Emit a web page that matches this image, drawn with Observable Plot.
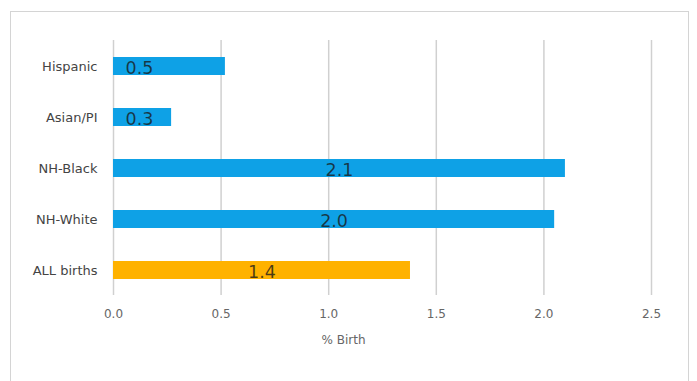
<!DOCTYPE html>
<html>
<head>
<meta charset="utf-8">
<script src="https://cdn.jsdelivr.net/npm/d3@7"></script>
<script src="https://cdn.jsdelivr.net/npm/@observablehq/plot@0.6"></script>
<style>
  html, body { margin: 0; padding: 0; background: #fff; }
  #wrap { position: relative; width: 697px; height: 381px; overflow: hidden; }
  #frame { position: absolute; left: 10px; top: 11px; width: 679px; height: 400px; border: 1.5px solid #d4d4d4; box-sizing: border-box; }
  #chart { position: absolute; left: 0; top: 0; }
</style>
</head>
<body>
<div id="wrap"><div id="frame"></div><div id="chart"></div></div>
<script>
const categories = ["Hispanic", "Asian/PI", "NH-Black", "NH-White", "ALL births"];
const values = [0.52, 0.27, 2.10, 2.05, 1.38];
const labels = ["0.5", "0.3", "2.1", "2.0", "1.4"];
const groups = ["group", "group", "group", "group", "all"];
const xTicks = [0, 0.5, 1.0, 1.5, 2.0, 2.5];

const data = categories.map((c, i) => ({ cat: c, value: values[i], label: labels[i], group: groups[i] }));
const small = data.filter(d => d.value < 1);
const large = data.filter(d => d.value >= 1);

const chart = Plot.plot({
  width: 697,
  height: 381,
  marginTop: 40,
  marginBottom: 86,
  marginLeft: 113,
  marginRight: 46,
  style: { fontFamily: "'DejaVu Sans', sans-serif", background: "transparent" },
  x: { domain: [0, 2.5], ticks: xTicks, tickFormat: d3.format(".1f"), label: null },
  y: { domain: categories, paddingInner: 0.65, paddingOuter: 0.325, label: null },
  color: { domain: ["group", "all"], range: ["#0ea1e6", "#ffb200"] },
  marks: [
    Plot.gridX(xTicks, { stroke: "#d0d0d0", strokeOpacity: 1, strokeWidth: 1.5 }),
    Plot.barX(data, { x: "value", y: "cat", fill: "group" }),
    Plot.text(large, { x: d => d.value / 2, y: "cat", text: "label", fontSize: 17.5, fill: "#1a1a1a", fillOpacity: 0.78, dy: 2 }),
    Plot.text(small, { x: 0, y: "cat", text: "label", textAnchor: "start", dx: 12, fontSize: 17.5, fill: "#1a1a1a", fillOpacity: 0.78, dy: 2 }),
    Plot.axisX(xTicks, { tickSize: 0, tickPadding: 14, fontSize: 12, color: "#666", tickFormat: d3.format(".1f") }),
    Plot.axisY({ tickSize: 0, tickPadding: 16, fontSize: 13, color: "#444" }),
    Plot.text(["% Birth"], { frameAnchor: "bottom", dy: 48, dx: -39, fontSize: 12, fill: "#666" })
  ]
});
document.getElementById("chart").appendChild(chart);
</script>
</body>
</html>
